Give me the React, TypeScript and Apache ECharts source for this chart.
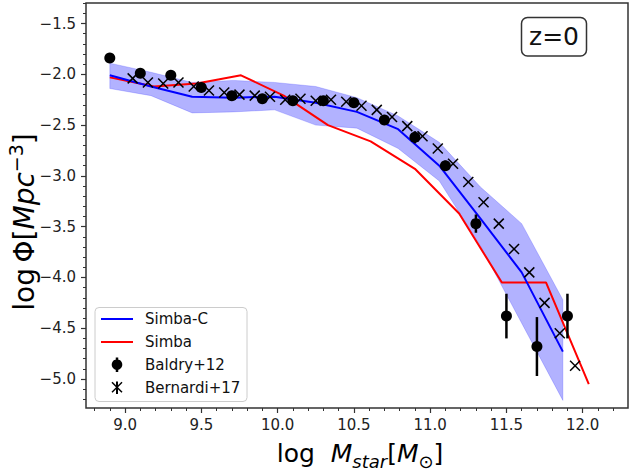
import React, { useEffect, useRef } from "react";
import * as echarts from "echarts";

// ---- data ----
const simbaCX = [8.90, 9.17, 9.44, 9.71, 9.98, 10.25, 10.52, 10.79, 11.06, 11.33, 11.60, 11.87];
const simbaCY = [-2.01, -2.12, -2.22, -2.23, -2.22, -2.28, -2.37, -2.54, -2.90, -3.42, -3.95, -4.73];
const simbaCHi = [-1.89, -1.98, -2.08, -2.06, -2.08, -2.12, -2.23, -2.41, -2.67, -3.11, -3.47, -4.22];
const simbaCLo = [-2.14, -2.21, -2.38, -2.37, -2.35, -2.50, -2.53, -2.73, -3.05, -3.69, -4.45, -5.21];

const simbaX = [8.90, 9.19, 9.47, 9.76, 10.04, 10.33, 10.61, 10.90, 11.19, 11.47, 11.76, 12.04];
const simbaY = [-2.03, -2.12, -2.09, -2.01, -2.21, -2.50, -2.66, -2.93, -3.37, -4.05, -4.05, -5.05];

const baldryX = [8.9, 9.1, 9.3, 9.5, 9.7, 9.9, 10.1, 10.3, 10.5, 10.7, 10.9, 11.1, 11.3, 11.5, 11.7, 11.9];
const baldryY = [-1.84, -1.99, -2.01, -2.13, -2.21, -2.24, -2.26, -2.26, -2.28, -2.45, -2.62, -2.90, -3.47, -4.38, -4.68, -4.38];
const baldryErr = [0.02, 0.02, 0.02, 0.02, 0.02, 0.02, 0.02, 0.02, 0.02, 0.03, 0.06, 0.05, 0.09, 0.22, 0.29, 0.22];

const bernardiX = [9.05, 9.15, 9.25, 9.35, 9.45, 9.55, 9.65, 9.75, 9.85, 9.95, 10.05, 10.15, 10.25, 10.35, 10.45,
  10.55, 10.65, 10.75, 10.85, 10.95, 11.05, 11.15, 11.25, 11.35, 11.45, 11.55, 11.65, 11.75, 11.85, 11.95];
const bernardiY = [-2.04, -2.08, -2.09, -2.08, -2.12, -2.16, -2.18, -2.20, -2.21, -2.22, -2.25, -2.24, -2.26, -2.25, -2.27,
  -2.31, -2.35, -2.42, -2.51, -2.61, -2.73, -2.88, -3.06, -3.26, -3.47, -3.72, -3.95, -4.25, -4.55, -4.87];

const xMajorTicks = [9.0, 9.5, 10.0, 10.5, 11.0, 11.5, 12.0];
const yMajorTicks = [-5.0, -4.5, -4.0, -3.5, -3.0, -2.5, -2.0, -1.5];
const X_MIN = 8.744, X_MAX = 12.297;
const Y_MIN = -5.285, Y_MAX = -1.298;

const FONT = "DejaVu Sans";

function minorTicks(lo: number, hi: number): number[] {
  const out: number[] = [];
  for (let k = Math.ceil(lo * 10); k <= Math.floor(hi * 10); k++) out.push(+(k / 10).toFixed(1));
  return out;
}

const fmt = (v: number) => (v < 0 ? "\u2212" : "") + Math.abs(v).toFixed(1);

export default function App() {
  const ref = useRef<HTMLDivElement>(null);
  useEffect(() => {
    if (!ref.current) return;
    const chart = echarts.init(ref.current, undefined, { renderer: "svg" });
    const tickColor = "#333";
    const option: any = {
      animation: false,
      grid: {
        left: 86, top: 3, width: 542, height: 405,
        show: true, borderColor: "#333", borderWidth: 1.5, backgroundColor: "#fff",
        outerBoundsMode: "none",
      },
      xAxis: [
        {
          type: "value", min: X_MIN, max: X_MAX, position: "bottom",
          axisLine: { show: false },
          splitLine: { show: false },
          axisTick: { show: true, length: 5, customValues: xMajorTicks, lineStyle: { color: tickColor, width: 1.2 } },
          axisLabel: { customValues: xMajorTicks, formatter: fmt, fontSize: 15, fontFamily: FONT, color: "#222", margin: 9 },
        },
        {
          type: "value", min: X_MIN, max: X_MAX, position: "bottom",
          axisLine: { show: false },
          splitLine: { show: false },
          axisTick: { show: true, length: 3, customValues: minorTicks(X_MIN, X_MAX), lineStyle: { color: tickColor, width: 1 } },
          axisLabel: { show: false },
        },
      ],
      yAxis: [
        {
          type: "value", min: Y_MIN, max: Y_MAX, position: "left",
          axisLine: { show: false },
          splitLine: { show: false },
          axisTick: { show: true, length: 5, customValues: yMajorTicks, lineStyle: { color: tickColor, width: 1.2 } },
          axisLabel: { customValues: yMajorTicks, formatter: fmt, fontSize: 15, fontFamily: FONT, color: "#222", margin: 10 },
        },
        {
          type: "value", min: Y_MIN, max: Y_MAX, position: "left",
          axisLine: { show: false },
          splitLine: { show: false },
          axisTick: { show: true, length: 3, customValues: minorTicks(Y_MIN, Y_MAX), lineStyle: { color: tickColor, width: 1 } },
          axisLabel: { show: false },
        },
      ],
      series: [
        {
          name: "Simba-C range",
          type: "custom",
          z: 1,
          xAxisIndex: 0, yAxisIndex: 0,
          data: simbaCX.map((x, i) => [x, simbaCLo[i], simbaCHi[i]]),
          encode: { x: 0, y: [1, 2] },
          renderItem: (params: any, api: any) => {
            if (params.dataIndex !== 0) return null;
            const pts: number[][] = [];
            for (let i = 0; i < simbaCX.length; i++) pts.push(api.coord([simbaCX[i], simbaCHi[i]]));
            for (let i = simbaCX.length - 1; i >= 0; i--) pts.push(api.coord([simbaCX[i], simbaCLo[i]]));
            return {
              type: "polygon",
              shape: { points: pts },
              style: { fill: "rgba(0,0,255,0.3)", stroke: "rgba(0,0,255,0.18)", lineWidth: 1 },
            };
          },
        },
        {
          name: "Simba",
          type: "line",
          z: 2,
          data: simbaX.map((x, i) => [x, simbaY[i]]),
          symbol: "none", showSymbol: false,
          lineStyle: { color: "#ff0000", width: 2 },
        },
        {
          name: "Simba-C",
          type: "line",
          z: 3,
          data: simbaCX.map((x, i) => [x, simbaCY[i]]),
          symbol: "none", showSymbol: false,
          lineStyle: { color: "#0000ff", width: 2 },
        },
        {
          name: "Baldry+12 errors",
          type: "custom",
          z: 4,
          data: baldryX.map((x, i) => [x, baldryY[i], baldryErr[i]]),
          encode: { x: 0, y: 1 },
          renderItem: (params: any, api: any) => {
            const x = api.value(0), y = api.value(1), e = api.value(2);
            const a = api.coord([x, y - e]);
            const b = api.coord([x, y + e]);
            return {
              type: "line",
              shape: { x1: a[0], y1: a[1], x2: b[0], y2: b[1] },
              style: { stroke: "#000", lineWidth: 2.5 },
            };
          },
        },
        {
          name: "Baldry+12",
          type: "scatter",
          z: 5,
          data: baldryX.map((x, i) => [x, baldryY[i]]),
          symbol: "circle",
          symbolSize: 11,
          itemStyle: { color: "#000", opacity: 1 },
        },
        {
          name: "Bernardi+17",
          type: "custom",
          z: 6,
          data: bernardiX.map((x, i) => [x, bernardiY[i]]),
          encode: { x: 0, y: 1 },
          renderItem: (params: any, api: any) => {
            const p = api.coord([api.value(0), api.value(1)]);
            const s = 5;
            const st = { stroke: "#000", lineWidth: 1.5 };
            return {
              type: "group",
              children: [
                { type: "line", shape: { x1: p[0] - s, y1: p[1] - s, x2: p[0] + s, y2: p[1] + s }, style: st },
                { type: "line", shape: { x1: p[0] - s, y1: p[1] + s, x2: p[0] + s, y2: p[1] - s }, style: st },
              ],
            };
          },
        },
      ],
      graphic: [
        // x axis title
        {
          type: "text", x: 360, y: 453, z: 50,
          style: {
            text: "{n|log  }{i|M}{s|star}{n|[}{i|M}{o|\u2299}{n|]}",
            align: "center", verticalAlign: "middle",
            rich: {
              n: { fontSize: 25, fontFamily: FONT, color: "#111", lineHeight: 34 },
              i: { fontSize: 25, fontFamily: FONT, fontStyle: "italic", color: "#111", lineHeight: 34 },
              s: { fontSize: 18, fontFamily: FONT, fontStyle: "italic", color: "#111", lineHeight: 18, verticalAlign: "bottom" },
              o: { fontSize: 18, fontFamily: FONT, color: "#111", lineHeight: 18, verticalAlign: "bottom" },
            },
          },
        },
        // y axis title
        {
          type: "text", x: 24, y: 222, z: 50, rotation: Math.PI / 2,
          style: {
            text: "{n|log\u2009\u03A6[}{i|Mpc}{u|\u22123}{n|]}",
            align: "center", verticalAlign: "middle",
            rich: {
              n: { fontSize: 28, fontFamily: FONT, color: "#111", lineHeight: 36 },
              i: { fontSize: 28, fontFamily: FONT, fontStyle: "italic", color: "#111", lineHeight: 36 },
              u: { fontSize: 19, fontFamily: FONT, color: "#111", lineHeight: 19, verticalAlign: "top" },
            },
          },
        },
        // z=0 box
        {
          type: "rect", z: 50,
          shape: { x: 521.5, y: 17.5, width: 65, height: 38.5, r: 6 },
          style: { fill: "#fff", stroke: "#333", lineWidth: 1.5 },
        },
        {
          type: "text", x: 554, y: 36, z: 51,
          style: { text: "z=0", fontSize: 25, fontFamily: FONT, fill: "#111", align: "center", verticalAlign: "middle" },
        },
        // legend
        {
          type: "group", z: 60,
          children: [
            {
              type: "rect", z: 60,
              shape: { x: 95, y: 307.5, width: 152, height: 94, r: 4 },
              style: { fill: "rgba(255,255,255,0.8)", stroke: "#cccccc", lineWidth: 1 },
            },
            { type: "line", z: 61, shape: { x1: 101, y1: 319, x2: 133, y2: 319 }, style: { stroke: "#0000ff", lineWidth: 2 } },
            { type: "text", z: 61, x: 145, y: 319, style: { text: "Simba-C", fontSize: 15, fontFamily: FONT, fill: "#111", verticalAlign: "middle" } },
            { type: "line", z: 61, shape: { x1: 101, y1: 342, x2: 133, y2: 342 }, style: { stroke: "#ff0000", lineWidth: 2 } },
            { type: "text", z: 61, x: 145, y: 342, style: { text: "Simba", fontSize: 15, fontFamily: FONT, fill: "#111", verticalAlign: "middle" } },
            { type: "line", z: 61, shape: { x1: 117, y1: 357.5, x2: 117, y2: 372 }, style: { stroke: "#000", lineWidth: 2.5 } },
            { type: "circle", z: 62, shape: { cx: 117, cy: 364.7, r: 5.3 }, style: { fill: "#000" } },
            { type: "text", z: 61, x: 145, y: 365, style: { text: "Baldry+12", fontSize: 15, fontFamily: FONT, fill: "#111", verticalAlign: "middle" } },
            { type: "line", z: 61, shape: { x1: 117, y1: 381.5, x2: 117, y2: 394 }, style: { stroke: "#000", lineWidth: 2 } },
            { type: "line", z: 61, shape: { x1: 112, y1: 382.3, x2: 122, y2: 392.3 }, style: { stroke: "#000", lineWidth: 1.5 } },
            { type: "line", z: 61, shape: { x1: 112, y1: 392.3, x2: 122, y2: 382.3 }, style: { stroke: "#000", lineWidth: 1.5 } },
            { type: "text", z: 61, x: 145, y: 387.5, style: { text: "Bernardi+17", fontSize: 15, fontFamily: FONT, fill: "#111", verticalAlign: "middle" } },
          ],
        },
      ],
    };
    chart.setOption(option);
    return () => chart.dispose();
  }, []);
  return (
    <div
      ref={ref}
      style={{ position: "fixed", left: 0, top: 0, width: 630, height: 472, background: "#fff" }}
    />
  );
}
